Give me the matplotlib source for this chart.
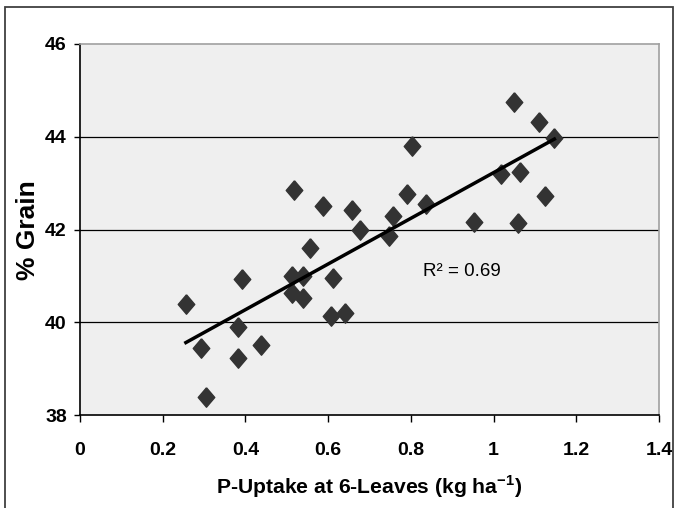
import numpy as np
import matplotlib.pyplot as plt
from matplotlib.patches import Rectangle

# P-uptake at 6 leaves (kg/ha) vs % grain
p_uptake = [0.256, 0.293, 0.305, 0.383, 0.383, 0.392, 0.437, 0.517, 0.513, 0.513,
            0.540, 0.540, 0.556, 0.588, 0.608, 0.612, 0.641, 0.658, 0.677, 0.748,
            0.758, 0.791, 0.803, 0.837, 0.953, 1.019, 1.050, 1.064, 1.059, 1.110,
            1.124, 1.147]
grain = [40.39, 39.44, 38.38, 39.89, 39.22, 40.93, 39.51, 42.86, 41.00, 40.63,
         41.00, 40.52, 41.60, 42.51, 40.14, 40.95, 40.19, 42.42, 41.99, 41.85,
         42.29, 42.76, 43.81, 42.55, 42.17, 43.20, 44.76, 43.25, 42.14, 44.32,
         42.73, 43.97]
x_ticks = [0, 0.2, 0.4, 0.6, 0.8, 1, 1.2, 1.4]
x_tick_labels = ['0', '0.2', '0.4', '0.6', '0.8', '1', '1.2', '1.4']
y_ticks = [38, 40, 42, 44, 46]
y_tick_labels = ['38', '40', '42', '44', '46']

plt.rcParams['font.family'] = ['Liberation Sans', 'DejaVu Sans']
plt.rcParams['mathtext.fontset'] = 'custom'
plt.rcParams['mathtext.rm'] = 'Liberation Sans'
plt.rcParams['mathtext.bf'] = 'Liberation Sans:bold'

fig = plt.figure(figsize=(6.78, 5.08), dpi=100)
ax = fig.add_axes([80 / 678, 1 - 415 / 508, 579 / 678, 371 / 508])
ax.set_facecolor('#efefef')

# outer frame of the chart
fig.patches.append(Rectangle((5 / 678, -0.05), 668 / 678, 1.05 - 7 / 508,
                             transform=fig.transFigure, fill=False,
                             edgecolor='#404040', linewidth=1.3))

for yv in [40, 42, 44]:
    ax.axhline(yv, color='black', linewidth=0.9, zorder=1)

diamond = [(0, 1), (0.85, 0), (0, -1), (-0.85, 0), (0, 1)]
ax.plot(p_uptake, grain, linestyle='none', marker=diamond, markersize=14,
        color='#333333', zorder=3)

# linear trend line
slope, intercept = np.polyfit(p_uptake, grain, 1)
xs = np.array([min(p_uptake), max(p_uptake)])
ax.plot(xs, slope * xs + intercept, color='black', linewidth=2.5, zorder=4)

ax.text(0.829, 41.09, 'R² = 0.69', fontsize=13.5, va='center', ha='left')

ax.set_xlim(0, 1.4)
ax.set_ylim(38, 46)
ax.set_xticks(x_ticks)
ax.set_xticklabels(x_tick_labels, fontsize=14, fontweight='bold')
ax.set_yticks(y_ticks)
ax.set_yticklabels(y_tick_labels, fontsize=14, fontweight='bold')
ax.tick_params(axis='x', direction='out', length=5, width=1, color='black', pad=14.5)
ax.tick_params(axis='y', direction='out', length=4.5, width=1, color='black', pad=5)

ax.spines['left'].set_color('black')
ax.spines['bottom'].set_color('black')
ax.spines['top'].set_color('#a0a0a0')
ax.spines['right'].set_color('#a0a0a0')
for s in ax.spines.values():
    s.set_linewidth(1.2)

fig.text(369.5 / 678, 1 - 487 / 508, r'P-Uptake at 6-Leaves (kg ha$^{\mathbf{-1}}$)',
         fontsize=15.2, fontweight='bold', ha='center', va='center')
fig.text(28 / 678, 1 - 230 / 508, '% Grain', fontsize=19, fontweight='bold',
         rotation=90, ha='center', va='center')

fig.savefig('out.png', dpi=100)
